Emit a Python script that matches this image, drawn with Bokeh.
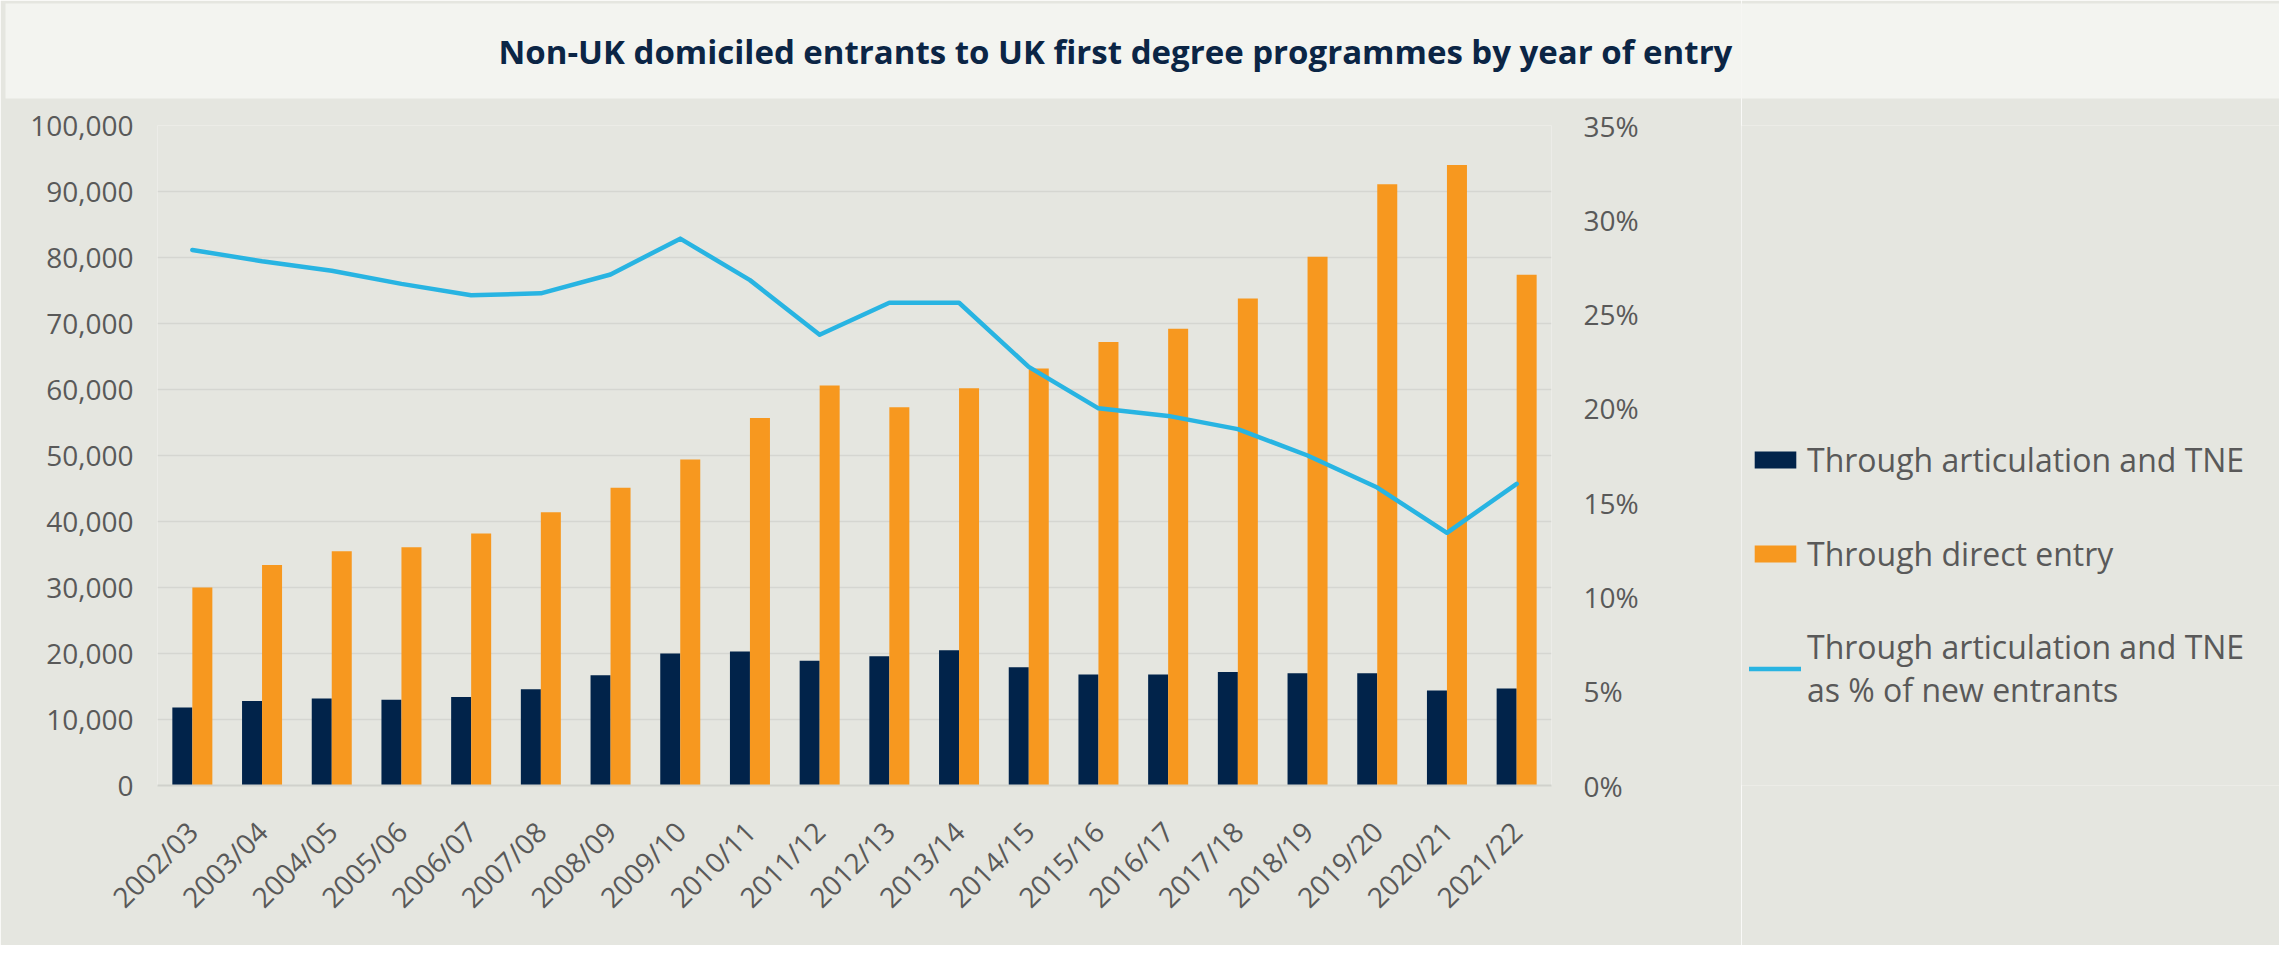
import math
from bokeh.plotting import figure
from bokeh.layouts import row
from bokeh.models import (ColumnDataSource, FactorRange, Range1d, LinearAxis, FixedTicker,
                          NumeralTickFormatter, PrintfTickFormatter, Legend, LegendItem, Title)
from bokeh.transform import dodge
from bokeh.embed import file_html
from bokeh.resources import INLINE

# ---------------- data ----------------
years = ["2002/03", "2003/04", "2004/05", "2005/06", "2006/07", "2007/08", "2008/09",
         "2009/10", "2010/11", "2011/12", "2012/13", "2013/14", "2014/15", "2015/16",
         "2016/17", "2017/18", "2018/19", "2019/20", "2020/21", "2021/22"]
tne = [11800, 12800, 13200, 13000, 13400, 14600, 16700, 20000, 20300, 18900,
       19600, 20500, 17900, 16800, 16800, 17200, 17000, 17000, 14400, 14700]
direct = [30000, 33400, 35500, 36100, 38200, 41400, 45100, 49400, 55700, 60600,
          57300, 60200, 63200, 67200, 69200, 73800, 80100, 91100, 94000, 77400]
tne_pct = [28.4, 27.8, 27.3, 26.6, 26.0, 26.1, 27.1, 29.0, 26.8, 23.9,
           25.6, 25.6, 22.2, 20.0, 19.6, 18.9, 17.5, 15.8, 13.4, 16.0]
left_ticks = [0, 10000, 20000, 30000, 40000, 50000, 60000, 70000, 80000, 90000, 100000]
right_ticks = [0, 5, 10, 15, 20, 25, 30, 35]
title_text = "Non-UK domiciled entrants to UK first degree programmes by year of entry"
legend_labels = ["Through articulation and TNE", "Through direct entry",
                 "Through articulation and TNE\nas % of new entrants"]

# ---------------- style ----------------
BG = "#e5e6e0"
BANNER = "#f3f4f0"
NAVY = "#01234a"
ORANGE = "#f7981f"
BLUE = "#28b4e2"
GREY = "#595959"
GRID = "#d5d6d1"
FONT = "Open Sans"
TITLE_SIZE = "33px"

H = 945
WA = 1741              # chart figure width
WB = 2279 - WA         # legend panel width
ML, MR, MT, MB = 157, WA - 1551, 125, 160


def add_banner(fig, text, offset, pad_left):
    fig.title = Title(text=text, align="left", offset=offset, vertical_align="middle",
                      standoff=0, text_font=FONT, text_font_style="bold",
                      text_font_size=TITLE_SIZE, text_color="#0b2545",
                      background_fill_color=BANNER, background_fill_alpha=1.0,
                      padding=dict(left=pad_left, right=900, top=25, bottom=25))
    fig.add_layout(Title(text=" ", text_font_size="2px", standoff=22), "above")


# ---------------- main chart ----------------
src = ColumnDataSource(dict(year=years, tne=tne, direct=direct, pct=tne_pct))

p = figure(width=WA, height=H, x_range=FactorRange(*years), y_range=Range1d(0, 100000),
           output_backend="svg", toolbar_location=None,
           min_border_left=ML, min_border_right=MR, min_border_top=MT, min_border_bottom=MB,
           background_fill_color=BG, border_fill_color=BG, outline_line_color=None)
p.extra_y_ranges = {"pct": Range1d(0, 35)}
add_banner(p, title_text, offset=-152, pad_left=493)

bw = 0.287
r1 = p.vbar(x=dodge("year", -bw / 2, range=p.x_range), top="tne", width=bw, source=src,
            fill_color=NAVY, line_color=None)
r2 = p.vbar(x=dodge("year", bw / 2, range=p.x_range), top="direct", width=bw, source=src,
            fill_color=ORANGE, line_color=None)
r3 = p.line(x="year", y="pct", source=src, y_range_name="pct", line_color=BLUE,
            line_width=4.5, line_join="round", line_cap="round")

yl = p.yaxis[0]
yl.ticker = FixedTicker(ticks=left_ticks)
yl.formatter = NumeralTickFormatter(format="0,0")

yr = LinearAxis(y_range_name="pct", ticker=FixedTicker(ticks=right_ticks),
                formatter=PrintfTickFormatter(format="%d%%"))
p.add_layout(yr, "right")

for ax in (yl, yr):
    ax.axis_line_color = None
    ax.major_tick_line_color = None
    ax.minor_tick_line_color = None
    ax.major_label_text_font = FONT
    ax.major_label_text_font_size = "28px"
    ax.major_label_text_color = GREY
yl.major_label_standoff = 18
yr.major_label_standoff = 26

xa = p.xaxis[0]
xa.axis_line_color = "#d0d1cc"
xa.axis_line_width = 2
xa.major_tick_line_color = None
xa.minor_tick_line_color = None
xa.major_label_orientation = math.pi / 4
xa.major_label_text_font = FONT
xa.major_label_text_font_size = "28px"
xa.major_label_text_color = GREY
xa.major_label_standoff = 35

p.xgrid.grid_line_color = None
p.ygrid.grid_line_color = GRID
p.ygrid.grid_line_width = 1.5

# ---------------- legend panel (right) ----------------
# The same series are attached to a panel whose ranges do not cover the data,
# so only their legend keys are visible.
q = figure(width=WB, height=H, x_range=Range1d(0, 1), y_range=Range1d(-2, -1),
           output_backend="svg", toolbar_location=None,
           x_axis_type=None, y_axis_type=None,
           min_border_left=0, min_border_right=0, min_border_top=MT, min_border_bottom=MB,
           background_fill_color=BG, border_fill_color=BG, outline_line_color=None)
add_banner(q, " ", offset=0, pad_left=0)

k1 = q.vbar(x="year", top="tne", width=bw, source=src, fill_color=NAVY, line_color=None)
k2 = q.vbar(x="year", top="direct", width=bw, source=src, fill_color=ORANGE, line_color=None)
k3 = q.line(x="year", y="pct", source=src, line_color=BLUE, line_width=4.5,
            line_cap="round", line_join="round")

legend = Legend(items=[LegendItem(label=legend_labels[0], renderers=[k1]),
                       LegendItem(label=legend_labels[1], renderers=[k2]),
                       LegendItem(label=legend_labels[2], renderers=[k3])],
                location=(8, 74), orientation="vertical",
                glyph_width=52, glyph_height=21, label_standoff=6,
                label_height=44, spacing=50, padding=0, margin=0,
                label_text_font=FONT, label_text_font_size="32px",
                label_text_color=GREY, label_text_line_height=1.45,
                border_line_color=None, background_fill_alpha=0.0)
q.add_layout(legend)

layout = row(p, q, spacing=0)
open("out.html", "w").write(file_html(layout, INLINE))
